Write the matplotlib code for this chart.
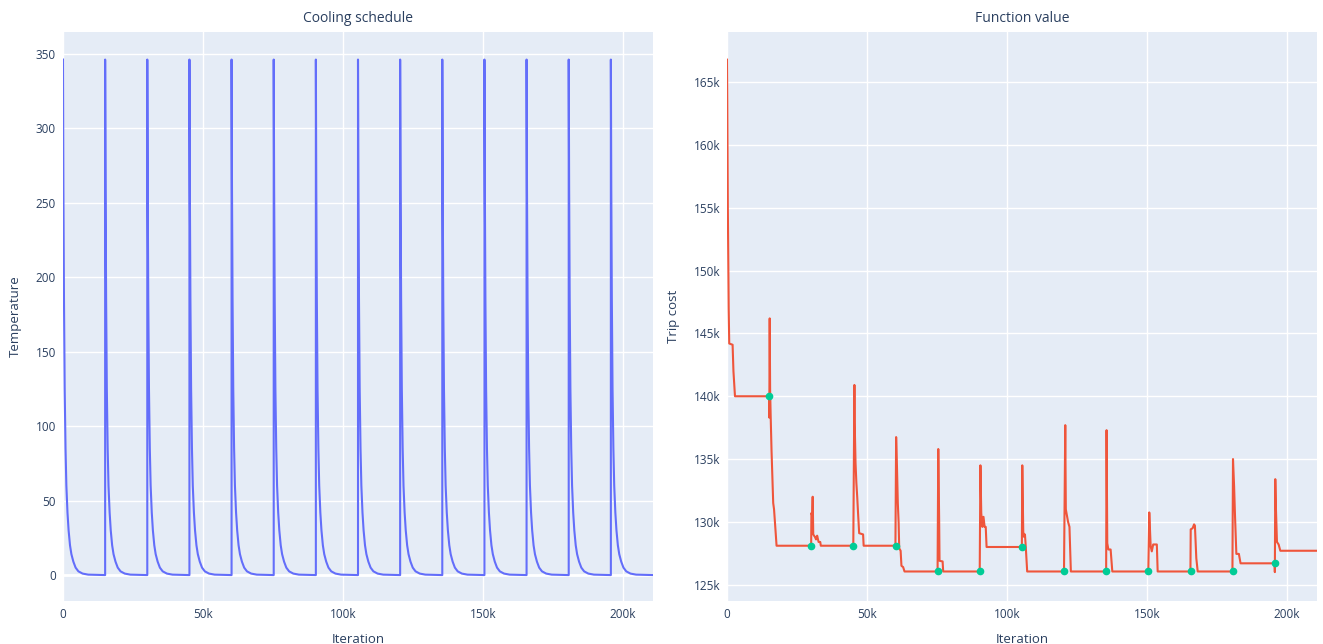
import matplotlib
matplotlib.use("Agg")
import matplotlib.pyplot as plt
from matplotlib.ticker import FuncFormatter, MultipleLocator
import numpy as np

# ---------------- data ----------------
# iterations at which the temperature is reset (start of each cooling cycle)
restart_iters = [0, 15050, 30100, 45150, 60200, 75250, 90300, 105350,
                 120400, 135450, 150500, 165550, 180600, 195650]
total_iters = 210700

# temperature decay within one cycle (offset from restart, temperature)
temp_offsets = [0, 150, 350, 600, 900, 1200, 1600, 2000, 2500, 3000,
                3700, 4500, 5500, 7000, 9000, 15049]
temp_values = [346, 260, 185, 125, 85, 60, 42, 30, 20, 14,
               9, 5, 2.5, 1, 0.3, 0]

# function value (trip cost) trace: iteration (k) and cost (k)
cost_iter_k = [
    0, 0.1, 0.3, 0.6, 0.8, 2.0, 2.3, 2.85,
    15.0, 15.1, 15.25, 15.4, 15.6, 15.9, 16.5, 16.8, 17.3, 17.7,
    30.05, 30.15, 30.4, 30.6, 30.8, 31.4, 31.8, 32.2, 32.5, 32.7, 33.3, 33.5,
    45.1, 45.5, 45.6, 45.9, 46.2, 46.5, 46.8, 47.2, 48.6, 48.8,
    60.15, 60.4, 60.7, 61.0, 61.3, 61.5, 62.0, 62.3, 62.9, 63.4,
    75.2, 75.45, 75.6, 75.75, 75.9, 77.0, 77.2,
    90.25, 90.5, 90.8, 91.2, 91.6, 92.0, 92.4, 92.7,
    105.3, 105.45, 105.8, 106.1, 106.4, 106.7, 107.2,
    120.35, 120.8, 121.0, 121.8, 122.3, 122.8,
    135.4, 135.55, 135.8, 136.2, 137.0, 137.6,
    150.45, 150.8, 151.3, 151.7, 152.2, 153.5, 153.8,
    165.5, 165.6, 166.3, 166.8, 167.1, 167.6, 168.1,
    180.5, 180.7, 181.1, 181.4, 181.9, 182.8, 183.4,
    195.55, 195.65, 195.8, 196.0, 196.4, 197.0, 197.6, 210.7,
]
cost_val_k = [
    166.8, 163.5, 155.0, 147.0, 144.2, 144.1, 142.0, 140.0,
    140.0, 138.3, 146.2, 140.5, 138.4, 135.7, 131.5, 131.0, 129.4, 128.1,
    128.1, 130.7, 130.5, 132.0, 129.0, 128.8, 128.6, 128.9, 128.6, 128.4, 128.4, 128.1,
    128.1, 140.9, 137.9, 134.7, 133.1, 132.0, 130.7, 129.1, 129.0, 128.1,
    128.1, 136.75, 134.4, 131.5, 129.9, 127.9, 127.7, 126.5, 126.4, 126.05,
    126.05, 135.8, 133.1, 130.4, 126.9, 126.85, 126.05,
    126.05, 134.5, 130.7, 129.6, 130.4, 129.6, 129.6, 128.0,
    128.0, 134.5, 129.2, 128.8, 129.0, 128.0, 126.05,
    126.05, 137.7, 131.0, 130.0, 129.6, 126.05,
    126.05, 137.3, 128.3, 127.8, 127.8, 126.05,
    126.05, 130.75, 128.05, 127.65, 128.2, 128.2, 126.05,
    126.05, 129.4, 129.5, 129.8, 129.7, 127.1, 126.05,
    126.05, 135.0, 132.8, 130.6, 127.45, 127.45, 126.7,
    126.7, 126.0, 133.4, 131.3, 128.4, 128.2, 127.7, 127.7,
]

# best value at each restart (green markers)
best_iter_k = [15.05, 30.1, 45.15, 60.2, 75.25, 90.3, 105.35,
               120.4, 135.45, 150.5, 165.55, 180.6, 195.65]
best_val_k = [140.0, 128.1, 128.1, 128.1, 126.05, 126.05, 128.0,
              126.05, 126.05, 126.05, 126.05, 126.05, 126.7]

titles = ["Cooling schedule", "Function value"]
x_label = "Iteration"
y_labels = ["Temperature", "Trip cost"]

# ---------------- build series ----------------
tx, ty = [], []
for i, start in enumerate(restart_iters):
    end = restart_iters[i + 1] if i + 1 < len(restart_iters) else total_iters
    for off, val in zip(temp_offsets, temp_values):
        if start + off <= end:
            tx.append(start + off)
            ty.append(val)
    if tx[-1] < end:
        tx.append(end)
        ty.append(0)

cx = np.array(cost_iter_k) * 1000
cy = np.array(cost_val_k) * 1000
bx = np.array(best_iter_k) * 1000
by = np.array(best_val_k) * 1000

# ---------------- style ----------------
plt.rcParams['font.family'] = ['Open Sans', 'DejaVu Sans']
text_color = '#2a3f5f'
bg = '#E5ECF6'

W, H = 1323, 644
fig = plt.figure(figsize=(W / 100, H / 100), dpi=100)
fig.patch.set_facecolor('white')

top, bottom = 32, 601
ax1 = fig.add_axes([63 / W, 1 - bottom / H, 590 / W, (bottom - top) / H])
ax2 = fig.add_axes([727 / W, 1 - bottom / H, 590 / W, (bottom - top) / H])


def kfmt(v, pos):
    if abs(v) < 1e-9:
        return '0'
    return f'{int(round(v / 1000))}k'


for ax in (ax1, ax2):
    ax.set_facecolor(bg)
    for s in ax.spines.values():
        s.set_visible(False)
    ax.grid(True, color='white', linewidth=1)
    ax.set_axisbelow(True)
    ax.tick_params(length=0, labelsize=8.5, colors=text_color, pad=5)
    ax.xaxis.set_major_locator(MultipleLocator(50000))
    ax.xaxis.set_major_formatter(FuncFormatter(kfmt))
    ax.set_xlim(0, total_iters)
    ax.set_xlabel(x_label, fontsize=9.5, color=text_color, labelpad=9)

ax1.plot(tx, ty, color='#636efa', linewidth=1.5, zorder=3)
ax1.set_ylim(-17.4, 364.5)
ax1.yaxis.set_major_locator(MultipleLocator(50))
ax1.axhline(0, color='white', linewidth=2, zorder=1)
ax1.set_ylabel(y_labels[0], fontsize=9.5, color=text_color, labelpad=10)
ax1.set_title(titles[0], fontsize=10, color=text_color, pad=7)

ax2.plot(cx, cy, color='#EF553B', linewidth=1.5, zorder=3)
ax2.plot(bx, by, linestyle='none', marker='o', markersize=4.5,
         color='#00cc96', zorder=4)
ax2.set_ylim(123700, 169000)
ax2.yaxis.set_major_locator(MultipleLocator(5000))
ax2.yaxis.set_major_formatter(FuncFormatter(kfmt))
ax2.set_ylabel(y_labels[1], fontsize=9.5, color=text_color, labelpad=10)
ax2.set_title(titles[1], fontsize=10, color=text_color, pad=7)

fig.savefig('out.png', dpi=100, facecolor='white')
